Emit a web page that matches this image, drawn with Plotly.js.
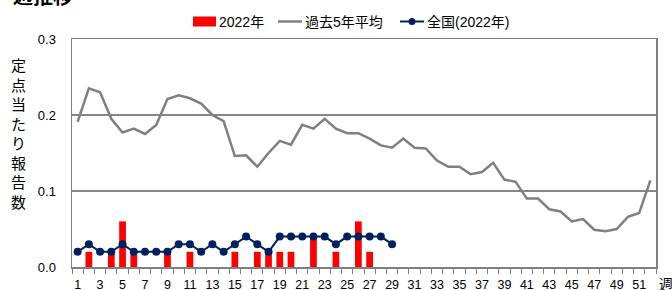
<!DOCTYPE html>
<html><head><meta charset="utf-8">
<script src="https://cdn.plot.ly/plotly-3.0.1.min.js"></script>
<style>html,body{margin:0;padding:0;background:#fff}#c{width:672px;height:290px}</style>
</head><body><div id="c"></div>
<script>
var weeks = [];
for (var i = 1; i <= 52; i++) weeks.push(i);
var weeks2022 = weeks.slice(0, 29);
var cases2022 = [0,0.02,0,0.02,0.06,0.02,0,0,0.02,0,0.02,0,0,0,0.02,0,0.02,0.02,0.02,0.02,0,0.04,0,0.02,0,0.06,0.02,0,0];
var past5yr = [0.191,0.235,0.230,0.195,0.177,0.182,0.175,0.187,0.221,0.226,0.222,0.215,0.200,0.192,0.146,0.147,0.132,0.150,0.166,0.161,0.187,0.182,0.195,0.182,0.176,0.176,0.169,0.160,0.157,0.169,0.157,0.156,0.140,0.132,0.132,0.122,0.125,0.137,0.115,0.112,0.090,0.090,0.076,0.073,0.060,0.063,0.049,0.047,0.050,0.066,0.071,0.114];
var national2022 = [0.02,0.03,0.02,0.02,0.03,0.02,0.02,0.02,0.02,0.03,0.03,0.02,0.03,0.02,0.03,0.04,0.03,0.02,0.04,0.04,0.04,0.04,0.04,0.03,0.04,0.04,0.04,0.04,0.03];
var tickWeeks = weeks.filter(function(w){return w % 2 === 1;});
var yTicks = [0, 0.1, 0.2, 0.3];
var yTitleChars = ['定','点','当','た','り','報','告','数'];
var seriesNames = ['2022年', '過去5年平均', '全国(2022年)'];
var chartTitle = '週推移';
var xUnit = '週';

var fontFam = 'Liberation Sans, Arial, Noto Sans CJK JP, sans-serif';
var jpFam = 'Noto Sans CJK JP, sans-serif';
var RED = '#FF0000', GRAY = '#808080', NAVY = '#002060';

var traces = [
  {type:'bar', x:weeks2022, y:cases2022, name:seriesNames[0], marker:{color:RED}, width:0.6},
  {type:'scatter', mode:'lines', x:weeks, y:past5yr, name:seriesNames[1], line:{color:GRAY, width:2.5}},
  {type:'scatter', mode:'lines+markers', x:weeks2022, y:national2022, name:seriesNames[2], line:{color:NAVY, width:2}, marker:{color:NAVY, size:8}}
];

// pixel -> paper helpers (plot area: x 72..656, y 39..267)
var L = 72, W = 584, B = 267, H = 228;
function px(x){ return (x - L) / W; }
function py(y){ return (B - y) / H; }

var legY = 21.5;
var shapes = [
  {type:'rect', xref:'paper', yref:'paper', x0:px(193), x1:px(216), y0:py(26.5), y1:py(16.5), fillcolor:RED, line:{width:0}},
  {type:'line', xref:'paper', yref:'paper', x0:px(278), x1:px(302), y0:py(legY), y1:py(legY), line:{color:GRAY, width:2.5}},
  {type:'line', xref:'paper', yref:'paper', x0:px(400), x1:px(424), y0:py(legY), y1:py(legY), line:{color:NAVY, width:2}},
  {type:'circle', xref:'paper', yref:'paper', x0:px(408.5), x1:px(415.5), y0:py(legY+3.5), y1:py(legY-3.5), fillcolor:NAVY, line:{width:0}}
];

var layout = {
  width:672, height:290,
  margin:{l:72, r:16, t:39, b:23},
  paper_bgcolor:'#fff', plot_bgcolor:'#fff',
  font:{family:fontFam, size:13, color:'#000'},
  showlegend:false,
  xaxis:{range:[0.5,52.5], tickmode:'array', tickvals:tickWeeks, ticktext:tickWeeks.map(String),
    ticks:'outside', ticklen:5, tickcolor:'rgba(0,0,0,0)',
    minor:{ticks:'outside', ticklen:5, tick0:0.5, dtick:1, tickcolor:GRAY, showgrid:false},
    showline:true, linecolor:GRAY, linewidth:1.5, mirror:true, showgrid:false, zeroline:false,
    tickfont:{size:12.5}, fixedrange:true},
  yaxis:{range:[0,0.3], tickmode:'array', tickvals:yTicks, tickformat:'.1f',
    showline:true, linecolor:GRAY, linewidth:1.5, mirror:true,
    showgrid:true, gridcolor:'#868686', gridwidth:1.2, zeroline:false, ticks:'', ticklabelstandoff:12,
    tickfont:{size:13}, fixedrange:true},
  shapes: shapes,
  annotations:[
    {xref:'paper', yref:'paper', x:px(218), y:py(legY), xanchor:'left', yanchor:'middle', showarrow:false,
     text:seriesNames[0], font:{family:fontFam, size:14, color:'#000'}, borderpad:0},
    {xref:'paper', yref:'paper', x:px(304), y:py(legY), xanchor:'left', yanchor:'middle', showarrow:false,
     text:seriesNames[1], font:{family:fontFam, size:14, color:'#000'}, borderpad:0},
    {xref:'paper', yref:'paper', x:px(426), y:py(legY), xanchor:'left', yanchor:'middle', showarrow:false,
     text:seriesNames[2], font:{family:fontFam, size:14, color:'#000'}, borderpad:0},
    {xref:'paper', yref:'paper', x:px(18), y:py(133), xanchor:'center', yanchor:'middle', showarrow:false,
     text:yTitleChars.join('<br>'), font:{family:jpFam, size:15, color:'#000'}},
    {xref:'paper', yref:'paper', x:px(658), y:py(283), xanchor:'left', yanchor:'middle', showarrow:false,
     text:xUnit, font:{family:jpFam, size:14, color:'#000'}, borderpad:0},
    {xref:'paper', yref:'paper', x:px(12), y:py(-5), xanchor:'left', yanchor:'middle', showarrow:false,
     text:'<b>' + chartTitle + '</b>', font:{family:jpFam, size:20, color:'#000'}, borderpad:0}
  ]
};
Plotly.newPlot('c', traces, layout, {displayModeBar:false, staticPlot:true});
</script></body></html>
